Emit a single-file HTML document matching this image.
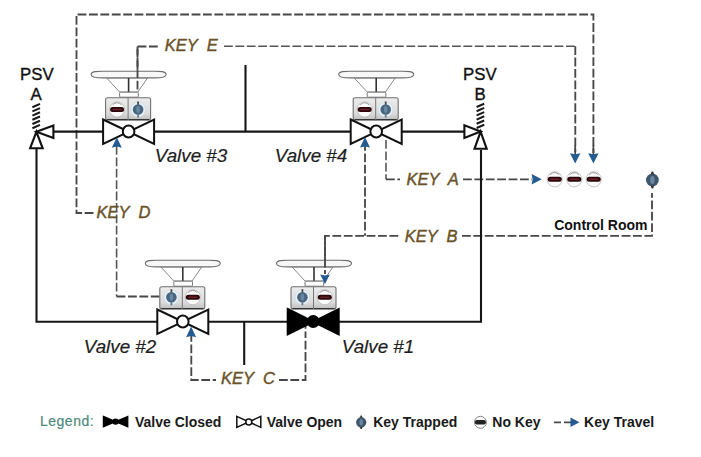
<!DOCTYPE html>
<html><head><meta charset="utf-8">
<style>
html,body{margin:0;padding:0;background:#fff;}
body{width:701px;height:457px;overflow:hidden;position:relative;}
svg{position:absolute;left:0;top:0;}
text{font-family:"Liberation Sans",sans-serif;white-space:pre;}
.k{font-style:italic;font-size:16.5px;fill:#6a5228;stroke:#6a5228;stroke-width:0.4px;}
.v{font-style:italic;font-size:18.8px;fill:#1e1e1e;stroke:#1e1e1e;stroke-width:0.2px;}
.p{font-size:16.8px;fill:#111;stroke:#111;stroke-width:0.35px;}
.lg{font-size:14px;font-weight:bold;fill:#1a1a1a;}
</style></head><body>
<svg width="701" height="457" viewBox="0 0 701 457">
<defs>
  <linearGradient id="bodyg" x1="0" y1="0" x2="0" y2="1">
    <stop offset="0" stop-color="#ececec"/>
    <stop offset="0.7" stop-color="#dcdcdc"/>
    <stop offset="1" stop-color="#bdbdbd"/>
  </linearGradient>
  <g id="act">
    <polygon points="-22,-53.6 19,-53.6 9.3,-39.5 -9,-39.5" fill="#fff" stroke="#8a8a8a" stroke-width="1"/>
    <path d="M-37.5,-57 C-37.5,-60.4 -31,-60.3 -26,-60.3 L26,-60.3 C31,-60.3 37.5,-60.4 37.5,-57 C37.5,-53.7 31,-53.6 26,-53.6 L-26,-53.6 C-31,-53.6 -37.5,-53.7 -37.5,-57 Z" fill="#f7f7f7" stroke="#6e6e6e" stroke-width="1.1"/>
    <line x1="0" y1="-53.6" x2="0" y2="-39.5" stroke="#333" stroke-width="1.6"/>
    <rect x="-9" y="-39.3" width="18.7" height="5" rx="1" fill="#fff" stroke="#777" stroke-width="1"/>
    <rect x="-23" y="-33.8" width="45" height="22.3" rx="2" fill="url(#bodyg)" stroke="#707070" stroke-width="1.1"/>
    <line x1="-21.5" y1="-11.9" x2="20.5" y2="-11.9" stroke="#333" stroke-width="1.3"/>
    <line x1="-0.5" y1="-33.8" x2="-0.5" y2="-11.5" stroke="#777" stroke-width="1"/>
  </g>
  <g id="nokey">
    <circle r="7.6" fill="#fcfcfc" stroke="#b8b8b8" stroke-width="0.8"/>
    <path d="M-4.5,-4.6 Q0,-9 4.5,-4.6" fill="none" stroke="#9a9a9a" stroke-width="1"/>
    <rect x="-7" y="-2.5" width="14" height="5" rx="2.5" fill="#2a080c" />
    <rect x="-4.8" y="-0.7" width="9.6" height="1.4" rx="0.7" fill="#6e2028" />
  </g>
  <g id="trap">
    <circle r="7.4" fill="#e8f3f9" stroke="#cbd8e0" stroke-width="0.7"/>
    <circle r="5.3" fill="#48667f" />
    <ellipse rx="1.8" ry="3.4" fill="#6a88a0"/>
    <rect x="-0.9" y="-8" width="1.8" height="3.2" fill="#4a4a4a"/>
    <rect x="-0.9" y="4.8" width="1.8" height="3.2" fill="#6a7a88"/>
  </g>
  <g id="trap2">
    <circle r="6.4" fill="#3e566e" />
    <ellipse rx="2.2" ry="4" fill="#6e859c"/>
    <path d="M-1.6,-5.8 L-0.8,-8.5 L0.8,-8.5 L1.6,-5.8 Z M-1.6,5.8 L-0.8,8.5 L0.8,8.5 L1.6,5.8 Z" fill="#333"/>
  </g>
  <g id="vopen">
    <polygon points="-25.5,-12 25.5,12.5 25.5,-12 -25.5,12.5" fill="#fff" stroke="#111" stroke-width="2" stroke-linejoin="miter"/>
    <ellipse rx="5.8" ry="6.1" fill="#fff" stroke="#111" stroke-width="2"/>
  </g>
  <g id="vclosed">
    <polygon points="-25.5,-12.5 25.5,13 25.5,-12.5 -25.5,13" fill="#000" stroke="#000" stroke-width="2"/>
    <circle r="6.5" fill="#000"/>
  </g>
  <g id="spring">
    <path d="M-4,-3.6 l7.6,-3.3 M-4,-7.8 l7.6,-3.3 M-4,-12 l7.6,-3.3 M-4,-16.2 l7.6,-3.3 M-4,-20.4 l7.6,-3.3 M-4,-24.6 l7.6,-3.3" stroke="#1a1a1a" stroke-width="2.1"/>
  </g>
  <marker id="ah" viewBox="0 0 10 10" refX="10" refY="5" markerWidth="4" markerHeight="4" orient="auto"><path d="M0,0 L10,5 L0,10 z" fill="#1f5a96"/></marker>
</defs>

<!-- ===== dashed key paths ===== -->
<g fill="none" stroke="#474747" stroke-width="1.85" stroke-dasharray="8.8,2.6">
  <!-- outer top path: KEY D to control room -->
  <path d="M93.5,213 H76.5 V14.5 H593.4 V153"/>
  <!-- KEY E -->
  <path d="M137.5,92 V46.5 H160"/>
  <path d="M224,46.2 H575.3" stroke="#555" stroke-width="1.55"/>
  <path d="M575.3,46.2 V152"/>
  <!-- KEY D vertical -->
  <path d="M116.6,146 V296.5" stroke="#555" stroke-width="1.6"/>
  <path d="M116.6,296.5 H160"/>
  <!-- KEY A -->
  <path d="M386,140 V179.3" stroke="#555" stroke-width="1.6"/>
  <path d="M386,179.3 H400"/>
  <path d="M463,179.3 H532"/>
  <!-- KEY B -->
  <path d="M365,142 V235.8"/>
  <path d="M325,274 V235.8 H400"/>
  <path d="M462,235.8 H652 V193"/>
  <!-- KEY C -->
  <path d="M191.3,333 V380 H216"/>
  <path d="M279,380 H305.5 V334"/>
  <!-- Valve #1 center down to KEY C -->
  <path d="M305.5,320 V334"/>
</g>

<!-- ===== pipes ===== -->
<g fill="none" stroke="#161616" stroke-width="2.1">
  <line x1="54" y1="131.6" x2="464" y2="131.6"/>
  <line x1="245.5" y1="65" x2="245.5" y2="131.6"/>
  <polyline points="36.5,149 36.5,321.7 481,321.7 481,150"/>
  <line x1="244.2" y1="321.7" x2="244.2" y2="365"/>
</g>

<!-- PSV A -->
<g transform="translate(36.4,131.8)">
  <use href="#spring"/>
  <polygon points="0,0 17,-6.3 17,6.3" fill="#fff" stroke="#111" stroke-width="2.1"/>
  <polygon points="0,0 -6.3,16.5 6.3,16.5" fill="#fff" stroke="#111" stroke-width="2.1"/>
</g>
<text class="p" x="20" y="80.2">PSV</text>
<text class="p" x="30.4" y="99.6">A</text>
<!-- PSV B -->
<g transform="translate(480.6,131.6)">
  <use href="#spring"/>
  <polygon points="0,0 -16.2,-6.3 -16.2,6.3" fill="#fff" stroke="#111" stroke-width="2.1"/>
  <polygon points="0,0 -6.1,17.2 6.1,17.2" fill="#fff" stroke="#111" stroke-width="2.1"/>
</g>
<text class="p" x="463" y="80.2">PSV</text>
<text class="p" x="474.4" y="99.6">B</text>

<!-- ===== valves ===== -->
<!-- Valve #3 -->
<g transform="translate(128.6,131.5)">
  <use href="#act"/>
  <use href="#nokey" transform="translate(-11.5,-22)"/>
  <use href="#trap" transform="translate(9.5,-22)"/>
  <use href="#vopen"/>
</g>
<!-- Valve #4 -->
<g transform="translate(376.2,131.5)">
  <use href="#act"/>
  <use href="#nokey" transform="translate(-11.5,-22)"/>
  <use href="#trap" transform="translate(9.5,-22)"/>
  <use href="#vopen"/>
</g>
<!-- Valve #2 -->
<g transform="translate(182.8,321.5)">
  <use href="#act" transform="translate(0,-1)"/>
  <use href="#trap" transform="translate(-11.4,-24.3)"/>
  <use href="#nokey" transform="translate(10,-24.3)"/>
  <use href="#vopen"/>
</g>
<!-- Valve #1 -->
<g transform="translate(313.2,321.5)">
  <use href="#act" transform="translate(0.8,-1)"/>
  <use href="#trap" transform="translate(-10.8,-24.3)"/>
  <use href="#nokey" transform="translate(11.6,-24.3)"/>
  <use href="#vclosed"/>
</g>

<g stroke="#474747" stroke-width="1.7">
  <line x1="575.2" y1="145" x2="575.2" y2="155"/>
  <line x1="593.4" y1="145" x2="593.4" y2="155"/>
</g>
<!-- dashed stubs on top of actuators -->
<g fill="none" stroke="#474747" stroke-width="1.85" stroke-dasharray="8.8,2.6">
  <path d="M137.5,46.5 V92"/>
  <path d="M325,235.8 V274"/>
</g>

<!-- blue arrowheads -->
<g fill="#245c92">
<path d="M116.8,137.2 L121.8,147.79999999999998 L116.8,146.6 L111.8,147.79999999999998 Z"/>
<path d="M365,137 L370,147.6 L365,146.4 L360,147.6 Z"/>
<path d="M191.1,326.6 L196.1,337.20000000000005 L191.1,336.00000000000006 L186.1,337.20000000000005 Z"/>
<path d="M325,284 L329.8,274.4 L325,275.4 L320.2,274.4 Z"/>
<path d="M575.2,163.6 L580.4000000000001,153.29999999999998 L575.2,154.29999999999998 L570.0,153.29999999999998 Z"/>
<path d="M593.4,163.6 L598.6,153.29999999999998 L593.4,154.29999999999998 L588.1999999999999,153.29999999999998 Z"/>
<path d="M541.8,179.2 L531.5999999999999,184.39999999999998 L532.5999999999999,179.2 L531.5999999999999,174.0 Z"/>
</g>

<!-- control room icons -->
<use href="#nokey" transform="translate(554.7,179.3)"/>
<use href="#nokey" transform="translate(574.3,179.3)"/>
<use href="#nokey" transform="translate(593.7,179.3)"/>
<use href="#trap2" transform="translate(652.4,180)"/>

<!-- labels -->
<text class="k" x="164.8" y="51.4">KEY  E</text>
<text class="k" x="406.5" y="184.8">KEY  A</text>
<text class="k" x="404.7" y="242">KEY  B</text>
<text class="k" x="96.5" y="217.9">KEY  D</text>
<text class="k" x="221" y="384.2">KEY  C</text>
<text class="v" x="154.8" y="161.9">Valve #3</text>
<text class="v" x="274.8" y="161.9">Valve #4</text>
<text class="v" x="83.8" y="352.7">Valve #2</text>
<text class="v" x="341.8" y="352.7">Valve #1</text>
<text x="554.2" y="230.2" style="font-size:14px;font-weight:bold;fill:#111">Control Room</text>

<!-- legend -->
<text x="40" y="425.6" style="font-size:14px;letter-spacing:0.5px;fill:#4c8a7c;stroke:#4c8a7c;stroke-width:0.2px">Legend:</text>
<g transform="translate(115.6,421.6)">
  <polygon points="-12.2,-5.2 12.2,5.2 12.2,-5.2 -12.2,5.2" fill="#000" stroke="#000" stroke-width="1.2"/>
  <circle r="3.2" fill="#000"/>
</g>
<text class="lg" x="135" y="426.8">Valve Closed</text>
<g transform="translate(248.8,421.9)">
  <polygon points="-12,-5.5 12,5.5 12,-5.5 -12,5.5" fill="#fff" stroke="#111" stroke-width="1.5"/>
  <circle r="3" fill="#fff" stroke="#111" stroke-width="1.5"/>
</g>
<text class="lg" x="266.7" y="426.8">Valve Open</text>
<use href="#trap2" transform="translate(361.2,422.3) scale(0.8)"/>
<text class="lg" x="373.2" y="426.8">Key Trapped</text>
<g transform="translate(480.4,422.3)">
  <circle r="6" fill="#fafafa" stroke="#888" stroke-width="1"/>
  <rect x="-5.5" y="-2.2" width="11" height="4.4" rx="2" fill="#222"/>
</g>
<text class="lg" x="492.3" y="426.8">No Key</text>
<path d="M554,422.3 H561 M564,422.3 H572" stroke="#4a4a4a" stroke-width="1.8" fill="none"/>
<polygon points="579.5,422.3 570.5,417.6 570.5,427" fill="#245c92"/>
<text class="lg" x="584.1" y="426.8">Key Travel</text>
</svg>
</body></html>
